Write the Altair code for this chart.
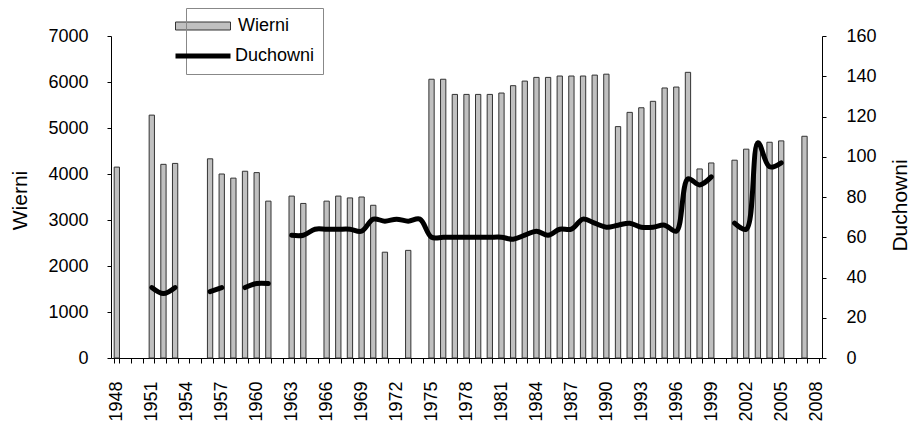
import altair as alt
import pandas as pd

years = list(range(1948, 2009))

wierni = [
    4150, None, None, 5280, 4210, 4230, None, None, 4330, 4000,   # 1948-1957
    3910, 4060, 4030, 3410, None, 3520, 3360, None, 3410, 3520,   # 1958-1967
    3480, 3500, 3320, 2300, None, 2340, None, 6060, 6060, 5730,   # 1968-1977
    5730, 5730, 5730, 5760, 5920, 6020, 6100, 6100, 6130, 6130,   # 1978-1987
    6130, 6150, 6170, 5030, 5340, 5440, 5580, 5870, 5890, 6210,   # 1988-1997
    4110, 4240, None, 4300, 4540, 4660, 4690, 4720, None, 4820,   # 1998-2007
    None,                                                         # 2008
]

duchowni = [
    None, None, None, 35, 32, 35, None, None, 33, 35,             # 1948-1957
    None, 35, 37, 37, None, 61, 61, 64, 64, 64,                   # 1958-1967
    64, 63, 69, 68, 69, 68, 69, 60, 60, 60,                       # 1968-1977
    60, 60, 60, 60, 59, 61, 63, 61, 64, 64,                       # 1978-1987
    69, 67, 65, 66, 67, 65, 65, 66, 63, 89,                       # 1988-1997
    86, 90, None, 67, 64, 107, 95, 97, None, None,                # 1998-2007
    None,                                                         # 2008
]

left_ticks = list(range(0, 7001, 1000))
right_ticks = list(range(0, 161, 20))

FONT = "Liberation Sans"

bars_df = pd.DataFrame({"year": years, "wierni": wierni})
bars_df["s"] = "Wierni"

# line rows with segment ids (line breaks at missing years)
rows = []
seg = 0
prev_none = True
for y, v in zip(years, duchowni):
    if v is None:
        prev_none = True
        continue
    if prev_none:
        seg += 1
        prev_none = False
    rows.append({"year": y, "duchowni": v, "seg": seg, "s": "Duchowni"})
line_df = pd.DataFrame(rows)

x_scale = alt.Scale(domain=years, paddingInner=0.545, paddingOuter=0.2725)
x_axis = alt.Axis(
    title=None,
    labelExpr="(datum.value - 1948) % 3 == 0 ? datum.value : ''",
    labelAngle=270,
    labelFontSize=18,
    labelPadding=18,
    labelOverlap=False,
    tickBand="extent",
    tickSize=5,
    tickColor="#000",
    domainColor="#000",
    labelColor="#000",
    grid=False,
)

bars = alt.Chart(bars_df).mark_bar(stroke="#333333", strokeWidth=1).encode(
    x=alt.X("year:O", scale=x_scale, axis=x_axis),
    y=alt.Y(
        "wierni:Q",
        scale=alt.Scale(domain=[0, 7000], nice=False),
        axis=alt.Axis(
            title="Wierni",
            values=left_ticks,
            format="d",
            orient="left",
            tickSize=4,
            labelPadding=19,
            labelFontSize=18,
            titleFontSize=21,
            titleFontWeight="normal",
            titleAngle=270,
            titleX=-91,
            titleY=164,
            titleAlign="center",
            titleBaseline="middle",
            tickColor="#000",
            domainColor="#000",
            labelColor="#000",
            titleColor="#000",
            grid=False,
        ),
    ),
    fill=alt.Fill(
        "s:N",
        scale=alt.Scale(domain=["Wierni"], range=["#c0c0c0"]),
        legend=alt.Legend(
            orient="none",
            legendX=83,
            legendY=-19,
            title=None,
            padding=0,
            symbolType="M-5.5,-0.8H5.5V0.8H-5.5Z",
            symbolSize=100,
            symbolStrokeColor="#333333",
            symbolStrokeWidth=1,
            labelFontSize=18,
            labelOffset=26,
            labelColor="#000",
        ),
    ),
)

line = alt.Chart(line_df).mark_line(
    strokeWidth=5, interpolate="catmull-rom", strokeCap="round", strokeJoin="round"
).encode(
    x=alt.X("year:O", scale=x_scale, axis=x_axis),
    y=alt.Y(
        "duchowni:Q",
        scale=alt.Scale(domain=[0, 160], nice=False),
        axis=alt.Axis(
            title="Duchowni",
            values=right_ticks,
            orient="right",
            tickSize=4,
            labelPadding=20,
            labelFontSize=18,
            titleFontSize=21,
            titleFontWeight="normal",
            titleAngle=270,
            titleX=78,
            titleY=169,
            titleAlign="center",
            titleBaseline="middle",
            tickColor="#000",
            domainColor="#000",
            labelColor="#000",
            titleColor="#000",
            grid=False,
        ),
    ),
    detail="seg:N",
    stroke=alt.Stroke(
        "s:N",
        scale=alt.Scale(domain=["Duchowni"], range=["#000000"]),
        legend=alt.Legend(
            orient="none",
            legendX=75,
            legendY=-28,
            title="\u00a0" * 26,
            titleFontSize=18,
            titlePadding=13,
            padding=8,
            strokeColor="#888888",
            symbolType="M-5.5,0H5.5",
            symbolSize=100,
            symbolStrokeWidth=5,
            labelFontSize=18,
            labelOffset=23,
            labelColor="#000",
        ),
    ),
)

chart = (
    alt.layer(bars, line)
    .resolve_scale(y="independent")
    .properties(
        width=711,
        height=322,
        autosize=alt.AutoSizeParams(type="none"),
        padding={"left": 103, "top": 28, "right": 87, "bottom": 68},
    )
    .configure(font=FONT)
    .configure_view(stroke=None)
)

chart.save("out.html", embed_options={"renderer": "svg", "actions": False})
